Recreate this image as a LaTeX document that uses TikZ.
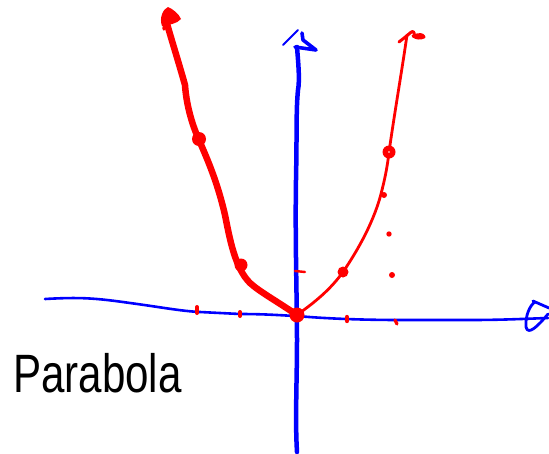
\documentclass[tikz,border=0pt]{standalone}
\usepackage{fontspec}
\setmainfont{Liberation Sans}
\definecolor{inkred}{RGB}{255,0,0}
\definecolor{inkblue}{RGB}{0,0,255}
\begin{document}
\begin{tikzpicture}[x=1pt,y=-1pt,line cap=round,line join=round,
  axis/.style={draw=inkblue},
  curve/.style={draw=inkred},
  dot/.style={fill=inkred}]
\useasboundingbox (0,0) rectangle (549,453);
% horizontal axis
\draw[axis,line width=2.6] (45,299) .. controls (80,297) and (95,298) .. (130,303)
  .. controls (160,307) and (180,311) .. (200,312) -- (240,314) .. controls (270,314) and (290,316) .. (297,316)
  .. controls (330,319) and (370,320) .. (400,320) -- (470,320) .. controls (500,320) and (520,319) .. (548,318);
% horizontal arrow head (loop)
\draw[axis,line width=2.8] (533,301) -- (549,308);
\draw[axis,line width=2.8] (548,314) .. controls (538,326) and (528,336) .. (526,327)
  .. controls (525,316) and (530,305) .. (535,302);
% vertical axis
\draw[axis,line width=4.5] (297,452) .. controls (295,420) and (297,380) .. (297,340)
  .. controls (297,300) and (295,240) .. (296,180) .. controls (297,130) and (296,110) .. (298,90)
  .. controls (300,80) and (298,60) .. (297,47);
% vertical arrow head
\draw[axis,line width=1.8] (283,45) -- (298,30);
\draw[axis,line width=3.6] (302,33) -- (303,40) -- (316,50) -- (295,47);
% thick left branch
\draw[curve,line width=6.5] (297,315) .. controls (275,300) and (260,292) .. (250,283)
  .. controls (235,268) and (230,240) .. (225,215)
  .. controls (218,185) and (210,165) .. (199,140)
  .. controls (190,120) and (186,100) .. (185,85)
  .. controls (178,60) and (170,35) .. (166,20);
% top-left arrow head blob
\fill[inkred] (162,26) .. controls (159,18) and (163,9) .. (168,7)
  .. controls (173,9) and (179,14) .. (181,19) .. controls (177,24) and (168,25) .. (162,26) -- cycle;
\draw[curve,line width=3.5] (164,29) -- (166,16);
% thin right branch
\draw[curve,line width=2.8] (297,315) .. controls (315,302) and (330,290) .. (343,272)
  .. controls (358,250) and (375,220) .. (382,190)
  .. controls (387,170) and (388,160) .. (389,152)
  .. controls (395,110) and (402,70) .. (407,35);
% top-right arrow head
\draw[curve,line width=3] (399,42) .. controls (404,38) and (408,35) .. (410,33)
  .. controls (413,30) and (415,32) .. (414,36) .. controls (419,34) and (423,34) .. (424,37)
  .. controls (420,39) and (416,38) .. (413,36);
% large dots
\fill[inkred] (297,315) circle (7.5);
\fill[inkred] (199,139) circle (7);
\fill[inkred] (241,265) circle (6.5);
\fill[inkred] (343,272) circle (5.5);
\fill[inkred] (389,152) circle (6.5);
\fill[white] (389,152) circle (0.9);
% small dots
\fill[inkred] (384,195) circle (3);
\fill[inkred] (389,234) circle (2.7);
\fill[inkred] (392,275) circle (3);
% ticks on x axis
\draw[curve,line width=4] (197,307) -- (197,313);
\draw[curve,line width=4] (240,312) -- (240,316);
\draw[curve,line width=4.4] (347,317) -- (347,321);
\draw[curve,line width=3.2] (395,320) -- (397,324);
% tick on y axis
\draw[curve,line width=2.4] (295,271) -- (305,272);
% label
\node[anchor=base west,inner sep=0pt] (lbl) at (13,392)
  {\scalebox{0.78}[1]{\fontsize{54}{54}\selectfont Parabola}};
\end{tikzpicture}
\end{document}
